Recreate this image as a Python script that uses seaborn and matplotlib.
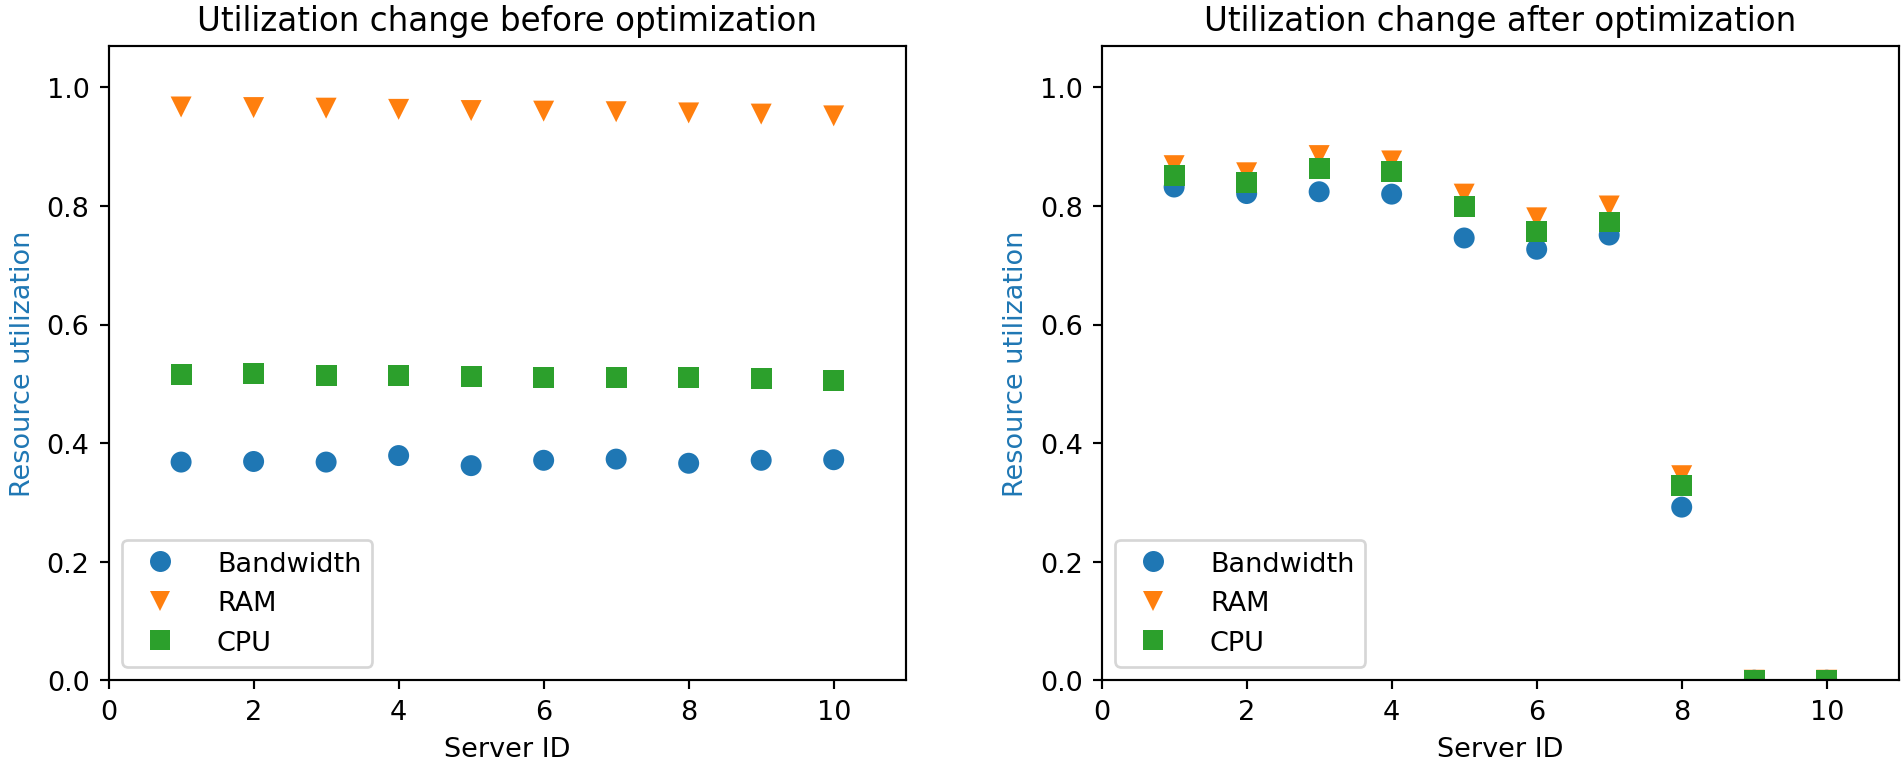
import numpy as np
import pandas as pd
import seaborn as sns
import matplotlib.pyplot as plt

# server ids on the x axis
server_ids = [1, 2, 3, 4, 5, 6, 7, 8, 9, 10]
resources = ['Bandwidth', 'RAM', 'CPU']

# utilization before optimization
bw_before = [0.368, 0.369, 0.368, 0.379, 0.362, 0.371, 0.373, 0.366, 0.371, 0.372]
ram_before = [0.967, 0.966, 0.965, 0.963, 0.961, 0.960, 0.959, 0.957, 0.955, 0.952]
cpu_before = [0.516, 0.517, 0.514, 0.514, 0.512, 0.511, 0.511, 0.510, 0.509, 0.506]

# utilization after optimization
bw_after = [0.832, 0.821, 0.824, 0.820, 0.746, 0.727, 0.751, 0.292, 0.0, 0.0]
ram_after = [0.868, 0.856, 0.885, 0.876, 0.820, 0.780, 0.800, 0.345, 0.0, 0.0]
cpu_after = [0.852, 0.839, 0.864, 0.858, 0.799, 0.757, 0.773, 0.329, 0.0, 0.0]


def to_long(bw, ram, cpu):
    """Stack the three series so that CPU is drawn last (on top)."""
    frames = []
    for name, vals in zip(resources, [bw, ram, cpu]):
        frames.append(pd.DataFrame({'Server ID': server_ids, 'Utilization': vals, 'Resource': name}))
    return pd.concat(frames, ignore_index=True)


palette = {'Bandwidth': '#1f77b4', 'RAM': '#ff7f0e', 'CPU': '#2ca02c'}
markers = {'Bandwidth': 'o', 'RAM': 'v', 'CPU': 's'}

fig, axes = plt.subplots(1, 2, figsize=(9.769, 3.938), dpi=195)
fig.subplots_adjust(left=0.057, right=0.997, bottom=0.113, top=0.939, wspace=0.245)

panels = [
    (to_long(bw_before, ram_before, cpu_before), 'Utilization change before optimization'),
    (to_long(bw_after, ram_after, cpu_after), 'Utilization change after optimization'),
]

for ax, (df, title) in zip(axes, panels):
    sns.scatterplot(data=df, x='Server ID', y='Utilization', hue='Resource', style='Resource',
                    palette=palette, markers=markers, s=60, linewidth=0, ax=ax)
    ax.set_xlim(0, 11)
    ax.set_ylim(0, 1.07)
    ax.set_title(title)
    ax.set_xlabel('Server ID')
    ax.set_ylabel('Resource utilization', color='#1f77b4')
    sns.move_legend(ax, 'lower left', title=None, frameon=True, handletextpad=1.1)

fig.savefig('out.png', dpi=195)
